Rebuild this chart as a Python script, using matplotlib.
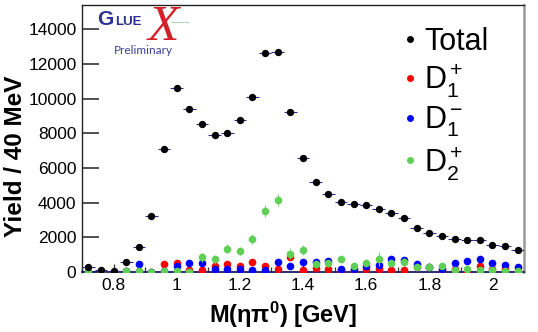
import matplotlib
matplotlib.use('Agg')
import matplotlib.pyplot as plt
from matplotlib.lines import Line2D
from matplotlib.ticker import MultipleLocator

plt.rcParams['font.family'] = ['Liberation Sans', 'DejaVu Sans']
plt.rcParams['mathtext.fontset'] = 'custom'
plt.rcParams['mathtext.rm'] = 'Liberation Sans'
plt.rcParams['mathtext.it'] = 'Liberation Sans:italic'
plt.rcParams['mathtext.bf'] = 'Liberation Sans:bold'

# bin centres, 40 MeV bins
mass = [0.72, 0.76, 0.80, 0.84, 0.88, 0.92, 0.96, 1.00, 1.04, 1.08, 1.12, 1.16,
        1.20, 1.24, 1.28, 1.32, 1.36, 1.40, 1.44, 1.48, 1.52, 1.56, 1.60, 1.64,
        1.68, 1.72, 1.76, 1.80, 1.84, 1.88, 1.92, 1.96, 2.00, 2.04, 2.08]

total = [300, 100, 30, 560, 1460, 3230, 7120, 10640, 9390, 8560, 7910, 8000,
         8770, 10100, 12630, 12690, 9250, 6570, 5180, 4510, 4010, 3950, 3860, 3630,
         3380, 3130, 2550, 2230, 2050, 1880, 1840, 1860, 1570, 1500, 1290]

d1_plus = [0, 0, 0, 60, 30, 0, 440, 540, 100, 115, 345, 460,
           345, 575, 345, 200, 850, 115, 210, 190, 100, 100, 150, 150,
           100, 115, 300, 270, 100, 150, 50, 345, 150, 150, 50]

d1_minus = [0, 50, 0, 50, 480, 0, 50, 365, 540, 500, 190, 190,
            150, 115, 115, 600, 330, 575, 575, 615, 150, 150, 345, 400,
            770, 690, 460, 270, 150, 500, 650, 750, 500, 385, 290]

d2_plus = [0, 0, 0, 30, 30, 0, 30, 50, 20, 845, 730, 1340,
           1210, 1920, 3530, 4150, 1060, 1270, 440, 500, 750, 365, 540, 730,
           500, 600, 270, 270, 330, 115, 150, 115, 115, 60, 40]

d2_err = [60, 60, 60, 80, 80, 60, 80, 100, 100, 250, 250, 250,
          250, 300, 350, 350, 300, 300, 200, 200, 200, 200, 200, 400,
          200, 200, 150, 150, 150, 120, 120, 120, 120, 100, 100]

fig = plt.figure(figsize=(5.38, 3.32), dpi=100)
ax = fig.add_axes([0.1524, 0.1807, 0.8216, 0.8043])

navy = '#2a2a8c'
green = '#5fcf55'

ax.errorbar(mass, d1_plus, yerr=150, fmt='o', color='#ff0000', ms=5.5,
            ecolor='#ff5050', elinewidth=0.8, capsize=1, mew=0, zorder=3)
ax.errorbar(mass, d1_minus, yerr=150, fmt='o', color='#0000ff', ms=5.5,
            ecolor='#5050ff', elinewidth=0.8, capsize=1, mew=0, zorder=4)
ax.errorbar(mass, d2_plus, yerr=d2_err, fmt='o', color=green, ms=5.5,
            ecolor='#7fd87a', elinewidth=0.8, capsize=1, mew=0, zorder=5)
ax.errorbar(mass, total, xerr=0.02, yerr=50, fmt='o', color='black', ms=5.3,
            ecolor=navy, elinewidth=0.8, capsize=0, mew=0, zorder=6)

ax.set_xlim(0.7, 2.1)
ax.set_ylim(0, 15400)

ax.xaxis.set_minor_locator(MultipleLocator(0.1))
ax.yaxis.set_major_locator(MultipleLocator(2000))
ax.set_xticks([0.8, 1.0, 1.2, 1.4, 1.6, 1.8, 2.0])
ax.set_xticklabels(['0.8', '1', '1.2', '1.4', '1.6', '1.8', '2'])
ax.tick_params(axis='both', which='both', direction='in', labelsize=12.5,
               colors='#333333', labelcolor='black')
ax.tick_params(axis='y', which='major', length=12, width=1.2, pad=4)
ax.tick_params(axis='x', which='major', length=6, width=0.9, pad=4)
ax.tick_params(axis='x', which='minor', length=3.5, width=0.9)

for s in ['left', 'top']:
    ax.spines[s].set_color('#222222')
    ax.spines[s].set_linewidth(1.0)
ax.spines['bottom'].set_color('#1a1a66')
ax.spines['bottom'].set_linewidth(1.3)
ax.spines['right'].set_color('#999999')
ax.spines['right'].set_linewidth(1.8)

ax.set_xlabel(r'M(ηπ$^{\mathbf{0}}$) [GeV]', fontsize=17, fontweight='bold')
ax.xaxis.set_label_coords(0.456, -0.105, transform=ax.transAxes)
ax.xaxis.label.set_va('top')
ax.set_ylabel('Yield / 40 MeV', fontsize=17.5, fontweight='bold')
ax.yaxis.set_label_coords(-0.151, 0.433, transform=ax.transAxes)
ax.yaxis.label.set_va('center')

# legend
handles = [Line2D([], [], ls='none', marker='o', color=c, ms=5, mew=0)
           for c in ['black', '#ff0000', '#0000ff', green]]
labels = ['Total', r'$\mathregular{D_1^+}$', r'$\mathregular{D_1^-}$',
          r'$\mathregular{D_2^+}$']
ax.legend(handles, labels, loc='upper left', bbox_to_anchor=(0.701, 0.965),
          frameon=False, fontsize=22, handlelength=0.4, handletextpad=0.25,
          labelspacing=0.18, borderaxespad=0)

# GlueX logo
ax.text(0.034, 0.925, 'G', transform=ax.transAxes, fontsize=15, fontweight='bold',
        color='#2e3192', ha='left', va='baseline')
ax.text(0.075, 0.925, 'LUE', transform=ax.transAxes, fontsize=9.5, fontweight='bold',
        color='#2e3192', ha='left', va='baseline')
ax.text(0.148, 0.868, 'X', transform=ax.transAxes, fontsize=37, fontstyle='italic',
        family='Liberation Serif', color='#d2232a', ha='left', va='baseline')
ax.text(0.2, 0.925, '~~~~', transform=ax.transAxes, fontsize=6,
        color='#4caf50', ha='left', va='baseline')
ax.text(0.138, 0.831, 'Preliminary', transform=ax.transAxes, fontsize=8.5,
        family='Lato', color='#3b3f97', ha='center', va='center')

fig.savefig('out.png', dpi=100)
